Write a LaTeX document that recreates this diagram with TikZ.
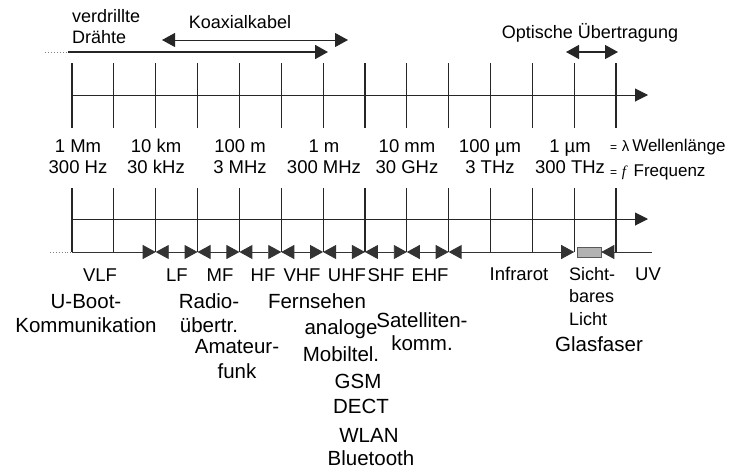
\documentclass[tikz,border=0pt]{standalone}
\usepackage{fontspec}
\setmainfont{Liberation Sans}
\newfontfamily\serifit{Liberation Serif}
\usetikzlibrary{arrows.meta}

\begin{document}
\begin{tikzpicture}[x=1pt,y=-1pt,
  >={Triangle[length=13pt,width=14pt]},
  axis/.style={line width=1pt,draw=black!85,-{Triangle[length=13pt,width=13pt]}},
  tick/.style={line width=1.2pt,draw=black!85},
  band/.style={line width=0.9pt,draw=black!80},
  lab/.style={anchor=base,inner sep=0pt,align=center,font=\fontsize{18.5}{21}\selectfont},
  app/.style={anchor=base,inner sep=0pt,align=center,font=\fontsize{20.5}{24}\selectfont}]
\useasboundingbox (0,0) rectangle (730,472);
% Skalen
\foreach \i in {0,...,13}{
  \coordinate (a\i) at ({72+41.85*\i},95);
  \coordinate (b\i) at ({72+41.85*\i},252);
  \draw[tick] ({72+41.85*\i},63) -- ({72+41.85*\i},128);
  \draw[tick] ({72+41.85*\i},188) -- (b\i);
}
\coordinate (aend) at (648,95);
\coordinate (c0) at (72,219);
\coordinate (cend) at (648,219);
\draw[axis] (a0) -- (aend);
\draw[axis] (c0) -- (cend);
% Leitungen oben
\coordinate (w0) at (45,52); \coordinate (w1) at (68,52); \coordinate (w2) at (328,52);
\coordinate (k0) at (162,40); \coordinate (k1) at (348,40);
\coordinate (o0) at (566,52); \coordinate (o1) at (618,52);
\draw[dotted,line width=1pt,gray] (w0) -- (w1);
\draw[line width=1.8pt,black!85,->] (w1) -- (w2);
\draw[line width=1pt,black!85,<->] (k0) -- (k1);
\draw[line width=1.4pt,black!85,<->] (o0) -- (o1);
\node[lab,anchor=base west,align=left,font=\fontsize{18}{21}\selectfont] (twist) at (72,43) {verdrillte\\Drähte};
\node[lab,font=\fontsize{18}{21}\selectfont] (koax) at (240,28) {Koaxialkabel};
\node[lab,font=\fontsize{18}{21}\selectfont] (opt) at (590,38) {Optische Übertragung};
% Wellenlänge / Frequenz
\node[lab] (s0) at (78,173)  {1 Mm\\300 Hz};
\node[lab] (s1) at (156,173) {10 km\\30 kHz};
\node[lab] (s2) at (240,173) {100 m\\3 MHz};
\node[lab] (s3) at (324,173) {1 m\\300 MHz};
\node[lab] (s4) at (407,173) {10 mm\\30 GHz};
\node[lab] (s5) at (490,173) {100 µm\\3 THz};
\node[lab] (s6) at (570,173) {1 µm\\300 THz};
\node[lab,anchor=base west,font=\fontsize{17}{20}\selectfont] (lam) at (610,151)
  {{\fontsize{12}{12}\selectfont=} {\fontsize{15}{15}\selectfont λ}\,Wellenlänge};
\node[lab,anchor=base west,font=\fontsize{17}{20}\selectfont] (frq) at (610,176)
  {{\fontsize{12}{12}\selectfont=} {\serifit\itshape\fontsize{15}{15}\selectfont f}\ \,Frequenz};
% Frequenzbänder
\coordinate (bs) at (50,252); \coordinate (bend) at (652,252);
\draw[band,dotted,gray] (bs) -- (b0);
\draw[band] (b0) -- (b1);
\draw[band,->] (b1) -- (b2);
\foreach \i/\j in {2/3,3/4,4/5,5/6,6/7,7/8,8/9}
  \draw[band,<->] (b\i) -- (b\j);
\draw[band,<->] (b9) -- (b12);
\node[draw=gray!70!black,fill=gray!60,line width=0.6pt,minimum width=24pt,minimum height=10pt,inner sep=0pt] (vis) at (589,252) {};
\draw[band,<-] (vis.east) -- (b13);
\draw[band] (b13) -- (bend);
\node[lab] (vlf) at (100,281) {VLF};
\node[lab] (lf)  at (177,281) {LF};
\node[lab] (mf)  at (220,281) {MF};
\node[lab] (hf)  at (263,281) {HF};
\node[lab] (vhf) at (302,281) {VHF};
\node[lab] (uhf) at (347,281) {UHF};
\node[lab] (shf) at (386,281) {SHF};
\node[lab] (ehf) at (430,281) {EHF};
\node[lab] (ir)  at (519,280) {Infrarot};
\node[lab,anchor=base west,align=left,font=\fontsize{18}{22.5}\selectfont] (light) at (569,325) {Sicht-\\bares\\Licht};
\node[lab] (uv)  at (648,280) {UV};
% Anwendungen
\node[app] (uboot) at (86,332)  {U-Boot-\\Kommunikation};
\node[app] (radio) at (209,332) {Radio-\\übertr.};
\node[app,font=\fontsize{20.5}{25}\selectfont] (ama) at (237,378) {Amateur-\\funk};
\node[app] (tv)    at (317,308) {Fernsehen};
\node[app,font=\fontsize{20.5}{27}\selectfont] (mob) at (341,361) {analoge\\Mobiltel.};
\node[app] (gsm)   at (358,388) {GSM};
\node[app] (dect)  at (361,413) {DECT};
\node[app] (wlan)  at (369,442) {WLAN};
\node[app] (bt)    at (371,465) {Bluetooth};
\node[app,font=\fontsize{20.5}{23}\selectfont] (sat) at (422,350) {Satelliten-\\komm.};
\node[app] (glas)  at (599,351) {Glasfaser};
\end{tikzpicture}
\end{document}
